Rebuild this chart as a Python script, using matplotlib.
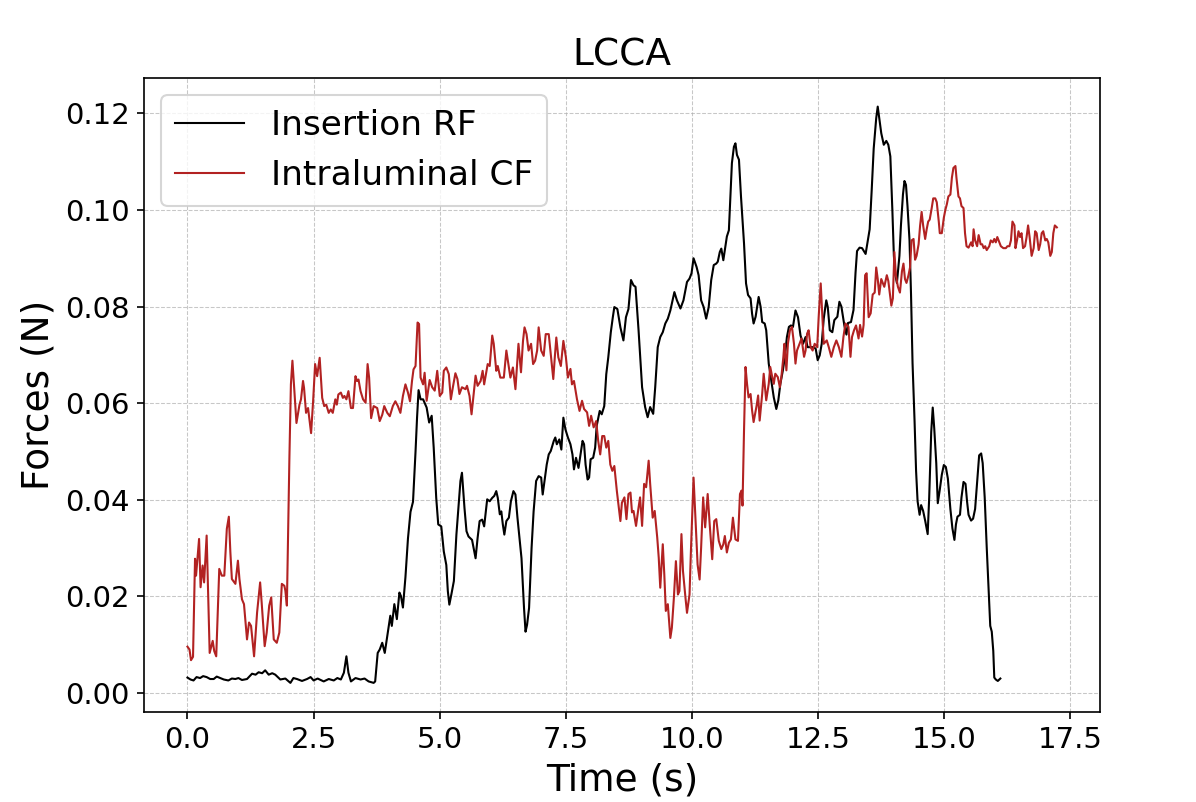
import matplotlib
matplotlib.use("Agg")
import matplotlib.pyplot as plt

# Insertion RF (black)
rf_time = [0.00, 0.06, 0.12, 0.18, 0.25, 0.31, 0.38, 0.45, 0.52, 0.58, 0.65, 0.72, 0.81, 0.88, 0.95,
           1.01, 1.08, 1.18, 1.28, 1.35, 1.41, 1.48, 1.54, 1.61, 1.68, 1.74, 1.84, 1.94, 2.04, 2.10,
           2.17, 2.27, 2.37, 2.44, 2.50, 2.58, 2.70, 2.80, 2.90, 2.97, 3.04, 3.10, 3.15, 3.19, 3.24,
           3.33, 3.43, 3.51, 3.59, 3.69, 3.72, 3.77, 3.81, 3.86, 3.91, 3.96, 4.02, 4.05, 4.10, 4.15,
           4.20, 4.23, 4.27, 4.32, 4.37, 4.42, 4.47, 4.52, 4.55, 4.58,
           4.62, 4.67, 4.74, 4.79, 4.84, 4.88, 4.93, 4.97, 5.03, 5.08, 5.13, 5.16, 5.19, 5.23, 5.28,
           5.33, 5.38, 5.41, 5.44, 5.49, 5.53, 5.57, 5.64, 5.71, 5.75, 5.79, 5.84, 5.88, 5.94, 5.99,
           6.04, 6.08, 6.12, 6.15, 6.19, 6.22, 6.25, 6.28, 6.32, 6.37, 6.41, 6.46, 6.50, 6.54, 6.62,
           6.67, 6.70, 6.73, 6.77, 6.82, 6.86, 6.91, 6.96, 7.01, 7.04, 7.08, 7.12, 7.16, 7.20, 7.26,
           7.29, 7.32, 7.37, 7.41, 7.45, 7.49, 7.54, 7.59, 7.63, 7.66, 7.70, 7.75, 7.78, 7.83, 7.86,
           7.89, 7.93, 7.96, 7.99, 8.04, 8.08, 8.11, 8.17, 8.21, 8.26, 8.30, 8.34, 8.39, 8.43, 8.46,
           8.52, 8.58, 8.64, 8.69, 8.74, 8.79, 8.84, 8.88, 8.94, 9.01, 9.07, 9.12, 9.17, 9.23, 9.27,
           9.32, 9.37, 9.42, 9.47, 9.52, 9.57, 9.60, 9.65, 9.70, 9.77, 9.83, 9.90, 9.95, 9.99, 10.03,
           10.09, 10.13, 10.18, 10.23, 10.28, 10.33, 10.38, 10.43, 10.48, 10.51, 10.55, 10.58, 10.62,
           10.66, 10.69, 10.73, 10.76, 10.79, 10.83, 10.86, 10.89, 10.93, 10.97, 11.03, 11.07, 11.11,
           11.16, 11.19, 11.22, 11.26, 11.29, 11.32, 11.36, 11.39, 11.44, 11.47, 11.52, 11.57, 11.62,
           11.67, 11.71, 11.75, 11.80, 11.84, 11.88, 11.92, 11.96, 12.00, 12.05, 12.10, 12.15, 12.20,
           12.25, 12.29, 12.35, 12.40, 12.45, 12.49, 12.53, 12.57, 12.61, 12.66, 12.69, 12.73, 12.78,
           12.82, 12.88, 12.92, 12.96, 13.02, 13.06, 13.09, 13.15, 13.20, 13.24, 13.27, 13.32, 13.37,
           13.44, 13.52, 13.56, 13.60, 13.65, 13.68, 13.71, 13.75, 13.80, 13.85, 13.89, 13.93, 13.97,
           14.00, 14.03, 14.06, 14.11, 14.14, 14.18, 14.21, 14.24, 14.27, 14.31, 14.34, 14.37, 14.41,
           14.44, 14.47, 14.51, 14.54, 14.58, 14.62, 14.67, 14.70, 14.74, 14.77, 14.80, 14.84, 14.87,
           14.91, 14.95, 14.99, 15.03, 15.07, 15.12, 15.16, 15.20, 15.23, 15.26, 15.31, 15.34, 15.38,
           15.42, 15.45, 15.48, 15.53, 15.57, 15.61, 15.66, 15.69, 15.73, 15.76, 15.80, 15.84, 15.88,
           15.91, 15.94, 15.97, 15.99, 16.02, 16.06, 16.11]
rf_force = [0.0032, 0.0028, 0.0026, 0.0033, 0.0031, 0.0035, 0.0033, 0.0029, 0.0029, 0.0034, 0.0031,
            0.0028, 0.0026, 0.0030, 0.0029, 0.0031, 0.0027, 0.0029, 0.0040, 0.0038, 0.0043, 0.0041,
            0.0047, 0.0038, 0.0041, 0.0038, 0.0028, 0.0030, 0.0021, 0.0031, 0.0029, 0.0025, 0.0029,
            0.0033, 0.0026, 0.0030, 0.0024, 0.0029, 0.0026, 0.0031, 0.0028, 0.0042, 0.0076, 0.0042,
            0.0024, 0.0031, 0.0028, 0.0030, 0.0024, 0.0021, 0.0024, 0.0083, 0.0090, 0.0104, 0.0083,
            0.0118, 0.0160, 0.0139, 0.0184, 0.0153, 0.0208, 0.0201, 0.0177, 0.0240, 0.0320, 0.0375,
            0.0396, 0.0500, 0.0570, 0.0627,
            0.0608, 0.0608, 0.0591, 0.0560, 0.0574, 0.0508, 0.0404, 0.0349, 0.0345, 0.0293, 0.0265,
            0.0211, 0.0183, 0.0204, 0.0232, 0.0328, 0.0397, 0.0439, 0.0456, 0.0383, 0.0335, 0.0324,
            0.0317, 0.0279, 0.0321, 0.0356, 0.0359, 0.0345, 0.0401, 0.0397, 0.0404, 0.0408, 0.0418,
            0.0404, 0.0370, 0.0376, 0.0349, 0.0328, 0.0356, 0.0363, 0.0397, 0.0418, 0.0411, 0.0363,
            0.0279, 0.0176, 0.0127, 0.0141, 0.0176, 0.0301, 0.0376, 0.0439, 0.0449, 0.0446, 0.0411,
            0.0442, 0.0473, 0.0494, 0.0501, 0.0522, 0.0529, 0.0515, 0.0525, 0.0504, 0.0570, 0.0546,
            0.0529, 0.0515, 0.0494, 0.0463, 0.0487, 0.0466, 0.0487, 0.0522, 0.0515, 0.0473, 0.0442,
            0.0446, 0.0484, 0.0487, 0.0508, 0.0553, 0.0584, 0.0577, 0.0594, 0.0660, 0.0695, 0.0747,
            0.0778, 0.0799, 0.0795, 0.0757, 0.0730, 0.0778, 0.0795, 0.0855, 0.0844, 0.0841, 0.0751,
            0.0633, 0.0592, 0.0571, 0.0592, 0.0578, 0.0633, 0.0716, 0.0737, 0.0747, 0.0765, 0.0775,
            0.0792, 0.0806, 0.0830, 0.0813, 0.0796, 0.0813, 0.0851, 0.0858, 0.0869, 0.0900, 0.0882,
            0.0865, 0.0813, 0.0799, 0.0775, 0.0799, 0.0855, 0.0886, 0.0889, 0.0893, 0.0913, 0.0920,
            0.0896, 0.0924, 0.0945, 0.0958, 0.1028, 0.1097, 0.1131, 0.1138, 0.1114, 0.1104, 0.1028,
            0.0931, 0.0848, 0.0824, 0.0817, 0.0785, 0.0765, 0.0779, 0.0799, 0.0820, 0.0799, 0.0768,
            0.0765, 0.0751, 0.0682, 0.0647, 0.0612, 0.0588, 0.0606, 0.0640, 0.0668, 0.0696, 0.0737,
            0.0758, 0.0761, 0.0758, 0.0792, 0.0778, 0.0740, 0.0723, 0.0737, 0.0716, 0.0716, 0.0716,
            0.0713, 0.0689, 0.0699, 0.0723, 0.0775, 0.0813, 0.0799, 0.0751, 0.0747, 0.0772, 0.0779,
            0.0810, 0.0800, 0.0760, 0.0742, 0.0766, 0.0768, 0.0793, 0.0870, 0.0915, 0.0922, 0.0921,
            0.0909, 0.0960, 0.1040, 0.1127, 0.1190, 0.1214, 0.1190, 0.1159, 0.1135, 0.1143, 0.1135,
            0.1111, 0.1000, 0.0905, 0.0865, 0.0849, 0.0905, 0.0968, 0.1032, 0.1060, 0.1052, 0.1008,
            0.0937, 0.0825, 0.0683, 0.0563, 0.0460, 0.0397, 0.0369, 0.0389, 0.0377, 0.0357, 0.0329,
            0.0405, 0.0540, 0.0591, 0.0548, 0.0476, 0.0393, 0.0421, 0.0452, 0.0472, 0.0468, 0.0444,
            0.0381, 0.0341, 0.0317, 0.0349, 0.0365, 0.0369, 0.0405, 0.0437, 0.0433, 0.0397, 0.0369,
            0.0357, 0.0361, 0.0381, 0.0452, 0.0492, 0.0496, 0.0476, 0.0405, 0.0302, 0.0206, 0.0139,
            0.0127, 0.0087, 0.0032, 0.0028, 0.0025, 0.0030]

# Intraluminal CF (red)
cf_time = [0.00, 0.04, 0.07, 0.11, 0.15, 0.17, 0.23, 0.26, 0.30, 0.33, 0.38, 0.44, 0.50, 0.53, 0.57,
           0.63, 0.68, 0.73, 0.78, 0.82, 0.85, 0.88, 0.95, 1.00, 1.03, 1.08, 1.12, 1.18, 1.22, 1.26,
           1.32, 1.38, 1.44, 1.47, 1.53, 1.57, 1.62, 1.66, 1.71, 1.77, 1.82, 1.87, 1.92, 1.94, 1.97,
           2.02, 2.05, 2.08, 2.12, 2.16, 2.22, 2.25, 2.29, 2.31, 2.35, 2.39, 2.45, 2.49, 2.53, 2.57,
           2.62, 2.67, 2.71, 2.75, 2.80, 2.84, 2.88, 2.93, 2.96, 2.99, 3.04, 3.08, 3.11, 3.15, 3.19,
           3.24, 3.28, 3.33, 3.36, 3.39, 3.43, 3.48, 3.53, 3.57, 3.60, 3.64, 3.69, 3.76, 3.81, 3.86,
           3.90, 3.96, 4.01, 4.07, 4.12, 4.17, 4.22, 4.27, 4.32, 4.37, 4.41, 4.45, 4.48, 4.52, 4.56,
           4.59, 4.62, 4.67, 4.70, 4.74, 4.80, 4.85, 4.90, 4.95, 5.00, 5.05, 5.08, 5.13, 5.18, 5.22,
           5.26, 5.31, 5.35, 5.39, 5.44, 5.51, 5.54, 5.59, 5.63, 5.71, 5.75, 5.81, 5.85, 5.88, 5.95,
           5.99, 6.04, 6.07, 6.12, 6.15, 6.20, 6.27, 6.32, 6.36, 6.40, 6.45, 6.50, 6.56, 6.61, 6.65,
           6.68, 6.72, 6.76, 6.81, 6.85, 6.89, 6.93, 6.96, 7.01, 7.06, 7.10, 7.16, 7.19, 7.25, 7.28,
           7.31, 7.35, 7.40, 7.45, 7.50, 7.54, 7.59, 7.62, 7.66, 7.72, 7.77, 7.82, 7.86, 7.92, 7.96,
           8.00, 8.05, 8.10, 8.14, 8.18, 8.22, 8.26, 8.30, 8.34, 8.38, 8.42, 8.46, 8.51, 8.58, 8.61,
           8.66, 8.70, 8.74, 8.78, 8.81, 8.84, 8.89, 8.94, 8.97, 9.01, 9.05, 9.09, 9.14, 9.17, 9.22,
           9.26, 9.31, 9.34, 9.37, 9.42, 9.45, 9.48, 9.52, 9.57, 9.60, 9.64, 9.68, 9.72, 9.75, 9.79,
           9.82, 9.87, 9.90, 9.95, 9.98, 10.03, 10.08, 10.11, 10.15, 10.18, 10.22, 10.26, 10.31,
           10.35, 10.40, 10.44, 10.48, 10.53, 10.58, 10.62, 10.65, 10.69, 10.73, 10.77, 10.81, 10.86,
           10.91, 10.95, 10.98, 11.00, 11.03, 11.06, 11.09, 11.12, 11.16, 11.19, 11.22, 11.28, 11.31,
           11.34, 11.39, 11.42, 11.47, 11.52, 11.55, 11.59, 11.62, 11.65, 11.70, 11.74, 11.77, 11.81,
           11.83, 11.87, 11.90, 11.94, 11.98, 12.02, 12.05, 12.08, 12.13, 12.17, 12.22, 12.25, 12.28,
           12.31, 12.35, 12.39, 12.43, 12.48, 12.51, 12.55, 12.58, 12.61, 12.67, 12.71, 12.76, 12.81,
           12.86, 12.91, 12.96, 13.00, 13.04, 13.10, 13.14, 13.17, 13.21, 13.25, 13.30, 13.33, 13.37,
           13.40, 13.43, 13.46, 13.50, 13.54, 13.58, 13.62, 13.65, 13.68, 13.71, 13.75, 13.78, 13.81,
           13.86, 13.89, 13.95, 13.98, 14.01, 14.04, 14.08, 14.12, 14.16, 14.19, 14.22, 14.25, 14.29,
           14.32, 14.35, 14.39, 14.42, 14.45, 14.49, 14.52, 14.55, 14.58, 14.62, 14.65, 14.68, 14.71,
           14.75, 14.78, 14.82, 14.85, 14.89, 14.91, 14.95, 14.99, 15.02, 15.05, 15.08, 15.12, 15.15,
           15.18, 15.22, 15.24, 15.28, 15.31, 15.34, 15.38, 15.41, 15.44, 15.48, 15.53, 15.56, 15.58,
           15.61, 15.65, 15.68, 15.72, 15.75, 15.78, 15.81, 15.84, 15.89, 15.92, 15.96, 15.99, 16.02,
           16.05, 16.09, 16.12, 16.17, 16.22, 16.25, 16.29, 16.32, 16.35, 16.39, 16.41, 16.44, 16.47,
           16.50, 16.53, 16.56, 16.60, 16.63, 16.66, 16.69, 16.73, 16.77, 16.80, 16.83, 16.87, 16.90,
           16.93, 16.96, 17.00, 17.03, 17.06, 17.10, 17.13, 17.16, 17.19, 17.23]
cf_force = [0.0096, 0.0090, 0.0068, 0.0075, 0.0278, 0.0243, 0.0319, 0.0219, 0.0264, 0.0229, 0.0326,
            0.0083, 0.0108, 0.0087, 0.0076, 0.0257, 0.0243, 0.0243, 0.0340, 0.0365, 0.0292, 0.0236,
            0.0226, 0.0274, 0.0236, 0.0194, 0.0184, 0.0111, 0.0146, 0.0139, 0.0076, 0.0167, 0.0229,
            0.0188, 0.0097, 0.0125, 0.0181, 0.0198, 0.0111, 0.0104, 0.0125, 0.0226, 0.0222, 0.0212,
            0.0181, 0.0486, 0.0639, 0.0688, 0.0625, 0.0559, 0.0597, 0.0608, 0.0646, 0.0632, 0.0580,
            0.0590, 0.0538, 0.0604, 0.0681, 0.0656, 0.0694, 0.0611, 0.0594, 0.0597, 0.0580, 0.0587,
            0.0580, 0.0608, 0.0597, 0.0618, 0.0622, 0.0611, 0.0615, 0.0608, 0.0625, 0.0590, 0.0590,
            0.0656, 0.0646, 0.0649, 0.0625, 0.0608, 0.0601, 0.0681, 0.0653, 0.0569, 0.0594, 0.0590,
            0.0563, 0.0576, 0.0594, 0.0580, 0.0573, 0.0594, 0.0604, 0.0594, 0.0580, 0.0615, 0.0639,
            0.0622, 0.0604, 0.0646, 0.0670, 0.0677, 0.0767, 0.0764, 0.0653, 0.0639, 0.0663, 0.0605,
            0.0648, 0.0633, 0.0626, 0.0667, 0.0615, 0.0622, 0.0667, 0.0674, 0.0660, 0.0608, 0.0633,
            0.0662, 0.0650, 0.0619, 0.0633, 0.0629, 0.0636, 0.0615, 0.0577, 0.0657, 0.0636, 0.0646,
            0.0667, 0.0639, 0.0681, 0.0677, 0.0740, 0.0723, 0.0667, 0.0677, 0.0653, 0.0653, 0.0709,
            0.0681, 0.0653, 0.0674, 0.0629, 0.0723, 0.0664, 0.0729, 0.0757, 0.0743, 0.0709, 0.0723,
            0.0681, 0.0688, 0.0709, 0.0757, 0.0709, 0.0698, 0.0743, 0.0743, 0.0712, 0.0650, 0.0695,
            0.0736, 0.0695, 0.0677, 0.0729, 0.0695, 0.0653, 0.0671, 0.0639, 0.0646, 0.0608, 0.0584,
            0.0605, 0.0588, 0.0581, 0.0553, 0.0574, 0.0550, 0.0563, 0.0522, 0.0494, 0.0532, 0.0532,
            0.0508, 0.0522, 0.0473, 0.0460, 0.0470, 0.0418, 0.0356, 0.0394, 0.0405, 0.0360, 0.0412,
            0.0415, 0.0374, 0.0377, 0.0346, 0.0384, 0.0405, 0.0346, 0.0433, 0.0426, 0.0481, 0.0433,
            0.0363, 0.0377, 0.0322, 0.0280, 0.0218, 0.0308, 0.0246, 0.0170, 0.0184, 0.0114, 0.0135,
            0.0197, 0.0273, 0.0204, 0.0211, 0.0329, 0.0253, 0.0197, 0.0166, 0.0204, 0.0301, 0.0446,
            0.0336, 0.0266, 0.0235, 0.0301, 0.0405, 0.0343, 0.0412, 0.0349, 0.0277, 0.0356, 0.0360,
            0.0315, 0.0298, 0.0308, 0.0325, 0.0291, 0.0311, 0.0318, 0.0363, 0.0318, 0.0315, 0.0412,
            0.0419, 0.0388, 0.0543, 0.0675, 0.0640, 0.0612, 0.0619, 0.0585, 0.0561, 0.0595, 0.0616,
            0.0564, 0.0619, 0.0661, 0.0606, 0.0640, 0.0675, 0.0654, 0.0640, 0.0661, 0.0654, 0.0633,
            0.0654, 0.0696, 0.0723, 0.0668, 0.0723, 0.0751, 0.0758, 0.0723, 0.0682, 0.0709, 0.0723,
            0.0734, 0.0696, 0.0709, 0.0744, 0.0751, 0.0716, 0.0709, 0.0723, 0.0716, 0.0779, 0.0848,
            0.0785, 0.0723, 0.0730, 0.0716, 0.0696, 0.0716, 0.0730, 0.0716, 0.0696, 0.0737, 0.0765,
            0.0758, 0.0696, 0.0737, 0.0751, 0.0761, 0.0734, 0.0762, 0.0738, 0.0762, 0.0865, 0.0869,
            0.0778, 0.0786, 0.0825, 0.0829, 0.0881, 0.0857, 0.0825, 0.0857, 0.0849, 0.0841, 0.0865,
            0.0853, 0.0802, 0.0817, 0.0913, 0.0865, 0.0841, 0.0829, 0.0873, 0.0889, 0.0857, 0.0849,
            0.0865, 0.0881, 0.0937, 0.0940, 0.0897, 0.0905, 0.0929, 0.0968, 0.0996, 0.0968, 0.0940,
            0.0960, 0.0976, 0.0980, 0.1004, 0.1024, 0.1024, 0.1016, 0.0976, 0.0952, 0.0952, 0.0984,
            0.1000, 0.1012, 0.1028, 0.1032, 0.1067, 0.1087, 0.1091, 0.1067, 0.1028, 0.1024, 0.1008,
            0.1004, 0.0952, 0.0925, 0.0922, 0.0933, 0.0925, 0.0960, 0.0937, 0.0925, 0.0948, 0.0929,
            0.0929, 0.0921, 0.0925, 0.0917, 0.0925, 0.0937, 0.0933, 0.0940, 0.0933, 0.0944, 0.0933,
            0.0925, 0.0921, 0.0921, 0.0925, 0.0925, 0.0937, 0.0976, 0.0968, 0.0921, 0.0937, 0.0956,
            0.0944, 0.0952, 0.0921, 0.0925, 0.0944, 0.0968, 0.0944, 0.0905, 0.0921, 0.0956, 0.0952,
            0.0917, 0.0929, 0.0952, 0.0956, 0.0937, 0.0940, 0.0933, 0.0905, 0.0913, 0.0952, 0.0968,
            0.0964]

dpi = 150
fig, ax = plt.subplots(figsize=(1196 / dpi, 802 / dpi), dpi=dpi)
fig.subplots_adjust(left=0.1204, right=0.92, top=0.903, bottom=0.1126)

ax.plot(rf_time, rf_force, color='black', linewidth=1.0, label='Insertion RF')
ax.plot(cf_time, cf_force, color='firebrick', linewidth=1.0, label='Intraluminal CF')

ax.set_title('LCCA', fontsize=18)
ax.set_xlabel('Time (s)', fontsize=18)
ax.set_ylabel('Forces (N)', fontsize=18)
ax.tick_params(labelsize=14)
ax.set_xticks([0, 2.5, 5, 7.5, 10, 12.5, 15, 17.5])
ax.yaxis.set_major_formatter(matplotlib.ticker.FormatStrFormatter('%.2f'))
ax.grid(True, linestyle='--', linewidth=0.5, alpha=0.7)
ax.legend(loc='upper left', fontsize=16.5)

fig.savefig('out.png', dpi=dpi)
